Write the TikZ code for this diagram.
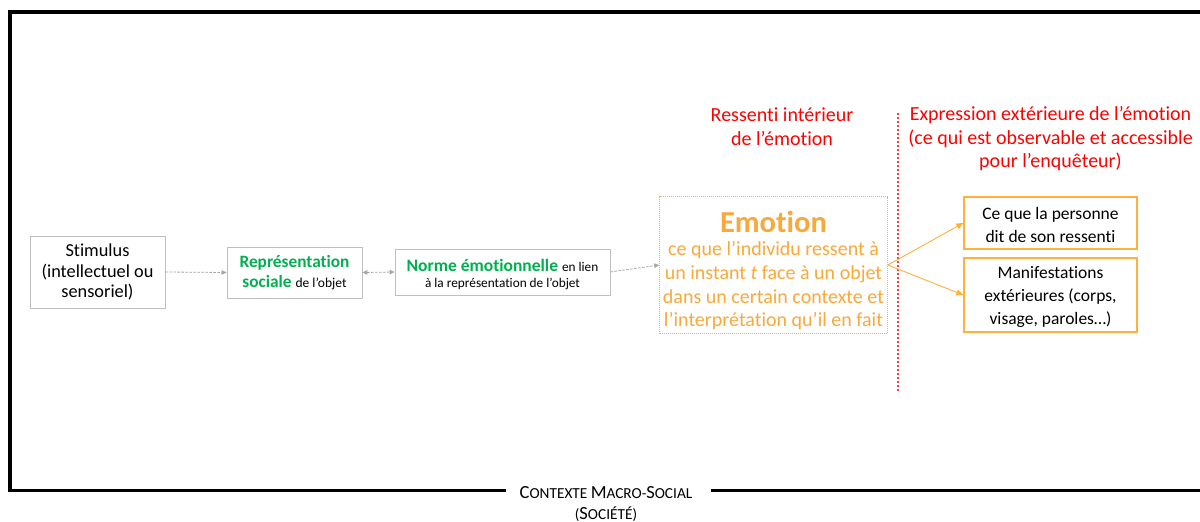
\documentclass[tikz,border=0pt]{standalone}
\usepackage{fontspec}
\setmainfont{Carlito}[Ligatures=NoCommon]
\usetikzlibrary{arrows.meta}
\definecolor{boxgray}{HTML}{BFBFBF}
\definecolor{arrgray}{HTML}{A6A6A6}
\definecolor{gtext}{HTML}{00B050}
\definecolor{orng}{HTML}{FFB13B}
\definecolor{orngtxt}{HTML}{F9A83A}
\definecolor{rtext}{HTML}{FF0000}
\definecolor{rline}{HTML}{FF3B3B}
\newcommand{\fsz}[1]{\fontsize{#1}{#1}\selectfont}
\tikzset{
  graybox/.style={draw=boxgray, line width=0.8pt, fill=white, align=center, inner sep=2pt, minimum width=#1},
  orbox/.style={draw=orng, line width=1.3pt, align=center, inner sep=2pt, minimum width=173pt},
  grayarrow/.style={draw=arrgray, line width=0.8pt, dash pattern=on 2.5pt off 1.5pt, -{Triangle[length=5pt,width=4.5pt]}},
  orarrow/.style={draw=orng, line width=0.9pt, -{Triangle[length=7pt,width=6pt]}},
  redlab/.style={text=rtext, align=center, font=\fontsize{20}{23.5}\selectfont},
  reddots/.style={color=rline, line width=2pt, dash pattern=on 2.2pt off 1.8pt},
}
\begin{document}
\begin{tikzpicture}[x=1pt,y=-1pt]
\useasboundingbox (0,0) rectangle (1200,522);
% frame
\draw[line width=3.6pt] (1210,12) -- (10,12) -- (10,490.5) -- (506,490.5);
\draw[line width=3.6pt] (711,490.5) -- (1210,490.5);
% separator
\coordinate (dtop) at (897.5,113);
\coordinate (dbot) at (897.5,393);
\draw[reddots] (dtop) -- (dbot);
\node[font=\fontsize{15}{21.5}\selectfont, align=center, inner sep=0pt] (ctx) at (606,504)
  {{\fsz{18.5}C}{\fsz{15.3}ONTEXTE} {\fsz{18.5}M}{\fsz{15.3}ACRO}-{\fsz{18.5}S}{\fsz{15.3}OCIAL}\\
   ({\fsz{18.5}S}{\fsz{15.3}OCIÉTÉ})};
% red labels
\node[redlab] (ress) at (782,126.5) {Ressenti intérieur\\de l’émotion};
\node[redlab] (expr) at (1050.5,139) {Expression extérieure de l’émotion\\(ce qui est observable et accessible\\pour l’enquêteur)};
% boxes
\node[graybox=135pt, minimum height=72pt, font=\fontsize{18.3}{20.5}\selectfont] (stim) at (97.5,272) {Stimulus\\(intellectuel ou\\sensoriel)};
\node[graybox=135pt, minimum height=51pt, font=\fontsize{17.3}{20.5}\selectfont] (rep) at (294.5,272.5)
  {\textcolor{gtext}{\bfseries Représentation}\\\textcolor{gtext}{\bfseries sociale} {\fsz{13.5}de l’objet}};
\node[graybox=215pt, minimum height=46pt, font=\fontsize{17.5}{20.5}\selectfont] (norme) at (502.5,272)
  {\rule{0pt}{17pt}\textcolor{gtext}{\bfseries Norme émotionnelle} {\fsz{13.3}en lien}\\[-4pt]{\fsz{13.3}à la représentation de l’objet}};
\node[draw=orng, line width=0.9pt, dash pattern=on 1pt off 1pt, minimum width=227pt, minimum height=134pt, align=center, text=orngtxt, font=\fontsize{20}{23.7}\selectfont] (emo) at (773.5,265)
  {\rule{0pt}{33pt}{\fontsize{30.5}{30}\selectfont\bfseries Emotion}\\[-1pt]ce que l’individu ressent à\\un instant \textit{t} face à un objet\\dans un certain contexte et\\l’interprétation qu’il en fait};
\node[orbox, minimum height=52pt, font=\fontsize{17.5}{23}\selectfont] (dit) at (1050.5,223) {\rule{0pt}{16pt}Ce que la personne\\dit de son ressenti};
\node[orbox, minimum height=74pt, font=\fontsize{17.5}{23}\selectfont] (manif) at (1050.5,295) {\rule{0pt}{17pt}Manifestations\\extérieures (corps,\\visage, paroles…)};
% arrows
\draw[grayarrow] (stim.east) -- (rep.west);
\draw[grayarrow, {Triangle[length=5pt,width=4.5pt]}-{Triangle[length=5pt,width=4.5pt]}] (rep.east) -- (norme.west);
\draw[grayarrow] (norme.east) -- (emo.west);
\draw[orarrow] (emo.east) -- (dit.west);
\draw[orarrow] (emo.east) -- (manif.west);
\end{tikzpicture}
\end{document}
